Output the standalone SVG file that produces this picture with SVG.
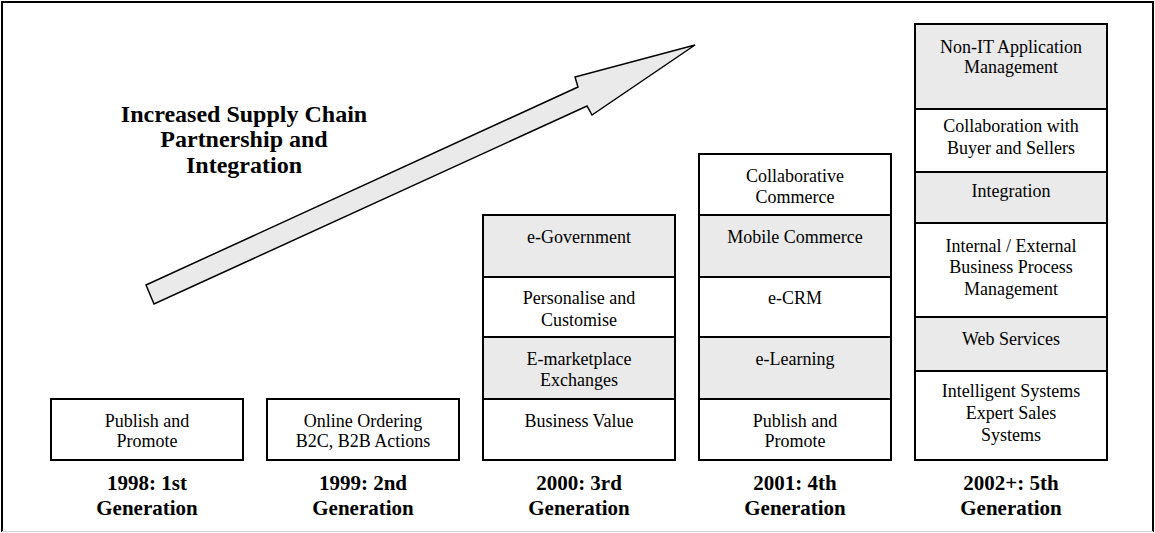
<svg xmlns="http://www.w3.org/2000/svg" width="1155" height="533" viewBox="0 0 1155 533">
<style>
.frame{fill:none;stroke:#000;stroke-width:2}
.cw{fill:#fff;stroke:#000;stroke-width:2}
.cg{fill:#eaeaea;stroke:#000;stroke-width:2}
.t{font-family:"Liberation Serif","Times New Roman",serif;font-size:18px;fill:#000;text-anchor:middle}
.b{font-family:"Liberation Serif","Times New Roman",serif;font-size:21px;font-weight:bold;fill:#000;text-anchor:middle}
.title{font-family:"Liberation Serif","Times New Roman",serif;font-size:24px;font-weight:bold;fill:#000;text-anchor:middle}
</style>
<rect x="0" y="0" width="1155" height="533" fill="#fff"/>
<path class="frame" d="M2,532 V2 H1153 V532"/>
<line x1="2" y1="531.5" x2="1153" y2="531.5" stroke="#d4d4d4" stroke-width="1"/>

<g id="connectors">
<polygon points="146,285 578,87 575,77 695,45 592,115 587,106 154,304" fill="#eaeaea" stroke="#000" stroke-width="1.5" stroke-linejoin="miter"/>
</g>

<g id="title">
<text class="title" x="244" y="121.5">Increased Supply Chain</text>
<text class="title" x="244" y="147">Partnership and</text>
<text class="title" x="244" y="172.5">Integration</text>
</g>

<g id="gen1">
<rect class="cw" x="51" y="399" width="192" height="61"/>
<text class="t" x="147" y="426.7">Publish and</text>
<text class="t" x="147" y="447.3">Promote</text>
<text class="b" x="147" y="490">1998: 1st</text>
<text class="b" x="147" y="515">Generation</text>
</g>

<g id="gen2">
<rect class="cw" x="267" y="399" width="192" height="61"/>
<text class="t" x="363" y="426.7">Online Ordering</text>
<text class="t" x="363" y="447.3">B2C, B2B Actions</text>
<text class="b" x="363" y="490">1999: 2nd</text>
<text class="b" x="363" y="515">Generation</text>
</g>

<g id="gen3">
<rect class="cg" x="483" y="215" width="192" height="62"/>
<rect class="cw" x="483" y="277" width="192" height="60"/>
<rect class="cg" x="483" y="337" width="192" height="62"/>
<rect class="cw" x="483" y="399" width="192" height="61"/>
<text class="t" x="579" y="243.3">e-Government</text>
<text class="t" x="579" y="304">Personalise and</text>
<text class="t" x="579" y="325.5">Customise</text>
<text class="t" x="579" y="364.5">E-marketplace</text>
<text class="t" x="579" y="386">Exchanges</text>
<text class="t" x="579" y="426.7">Business Value</text>
<text class="b" x="579" y="490">2000: 3rd</text>
<text class="b" x="579" y="515">Generation</text>
</g>

<g id="gen4">
<rect class="cw" x="699" y="154" width="192" height="61"/>
<rect class="cg" x="699" y="215" width="192" height="62"/>
<rect class="cw" x="699" y="277" width="192" height="60"/>
<rect class="cg" x="699" y="337" width="192" height="62"/>
<rect class="cw" x="699" y="399" width="192" height="61"/>
<text class="t" x="795" y="181.7">Collaborative</text>
<text class="t" x="795" y="203.3">Commerce</text>
<text class="t" x="795" y="243.3">Mobile Commerce</text>
<text class="t" x="795" y="304">e-CRM</text>
<text class="t" x="795" y="365">e-Learning</text>
<text class="t" x="795" y="426.7">Publish and</text>
<text class="t" x="795" y="447.3">Promote</text>
<text class="b" x="795" y="490">2001: 4th</text>
<text class="b" x="795" y="515">Generation</text>
</g>

<g id="gen5">
<rect class="cg" x="915" y="24" width="192" height="85"/>
<rect class="cw" x="915" y="109" width="192" height="63"/>
<rect class="cg" x="915" y="172" width="192" height="51"/>
<rect class="cw" x="915" y="223" width="192" height="94"/>
<rect class="cg" x="915" y="317" width="192" height="54"/>
<rect class="cw" x="915" y="371" width="192" height="89"/>
<text class="t" x="1011" y="53.3">Non-IT Application</text>
<text class="t" x="1011" y="73">Management</text>
<text class="t" x="1011" y="131.7">Collaboration with</text>
<text class="t" x="1011" y="154">Buyer and Sellers</text>
<text class="t" x="1011" y="196.7">Integration</text>
<text class="t" x="1011" y="251.7">Internal / External</text>
<text class="t" x="1011" y="273.3">Business Process</text>
<text class="t" x="1011" y="295">Management</text>
<text class="t" x="1011" y="345">Web Services</text>
<text class="t" x="1011" y="396.7">Intelligent Systems</text>
<text class="t" x="1011" y="419.3">Expert Sales</text>
<text class="t" x="1011" y="441">Systems</text>
<text class="b" x="1011" y="490">2002+: 5th</text>
<text class="b" x="1011" y="515">Generation</text>
</g>
</svg>
